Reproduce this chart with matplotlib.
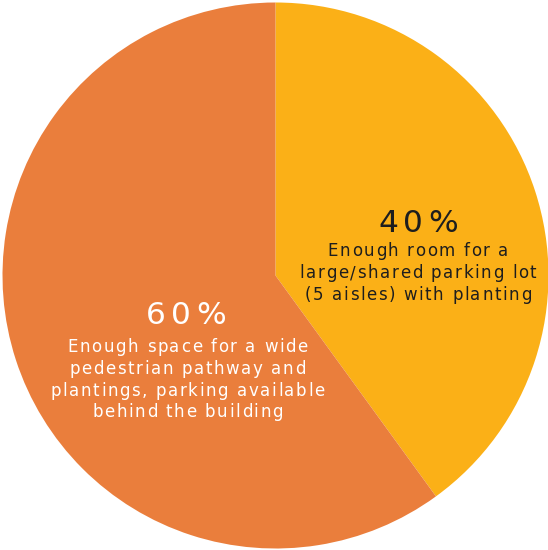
import matplotlib
matplotlib.use("Agg")
import matplotlib.pyplot as plt
from matplotlib.font_manager import FontProperties, findfont, get_font
from matplotlib.transforms import IdentityTransform

plt.rcParams['font.family'] = ['DejaVu Sans']

values = [40, 60]
colors = ['#FBB017', '#EA7E3C']
pct_labels = ['40%', '60%']
desc_40 = ['Enough room for a', 'large/shared parking lot', '(5 aisles) with planting']
desc_60 = ['Enough space for a wide', 'pedestrian pathway and',
           'plantings, parking available', 'behind the building']

W, H = 548, 550
DPI = 100
fig = plt.figure(figsize=(W / DPI, H / DPI), dpi=DPI)
cx, cy, r = 275.5, 275.5, 273.0
ax = fig.add_axes([(cx - r) / W, (H - cy - r) / H, 2 * r / W, 2 * r / H])
ax.pie(values, colors=colors, startangle=90, counterclock=False, radius=1,
       wedgeprops=dict(linewidth=0))
ax.set_xlim(-1, 1)
ax.set_ylim(-1, 1)
ax.set_aspect('auto')
ax.axis('off')


def advances(s, size):
    prop = FontProperties(family='DejaVu Sans', size=size)
    font = get_font(findfont(prop))
    font.set_size(size, DPI)
    return [font.load_char(ord(c)).linearHoriAdvance / 65536.0 for c in s]


def natural_width(s, size):
    return sum(advances(s, size))


def tracking_for(s, size, target):
    return (target - natural_width(s, size)) / (len(s) - 1)


def draw_tracked(s, center_x, baseline_y, size, color, track):
    adv = advances(s, size)
    total = sum(adv) + track * (len(s) - 1)
    x = center_x - total / 2.0
    for c, a in zip(s, adv):
        fig.text(x, H - baseline_y, c, ha='left', va='baseline', fontsize=size,
                 color=color, transform=IdentityTransform(),
                 family='DejaVu Sans')
        x += a + track


BIG, SMALL = 22.5, 12
track_big = tracking_for('40%', BIG, 80)
track_small = tracking_for('large/shared parking lot', SMALL, 237)

dark = '#1e1e1e'
draw_tracked(pct_labels[0], 418, 232.5, BIG, dark, track_big)
for line, by in zip(desc_40, [256, 278, 299.5]):
    draw_tracked(line, 418, by, SMALL, dark, track_small)

draw_tracked(pct_labels[1], 186, 323.5, BIG, 'white', track_big)
for line, by in zip(desc_60, [352, 374, 395.5, 417]):
    draw_tracked(line, 187.5, by, SMALL, 'white', track_small)

fig.savefig('out.png', dpi=DPI, facecolor='white')
